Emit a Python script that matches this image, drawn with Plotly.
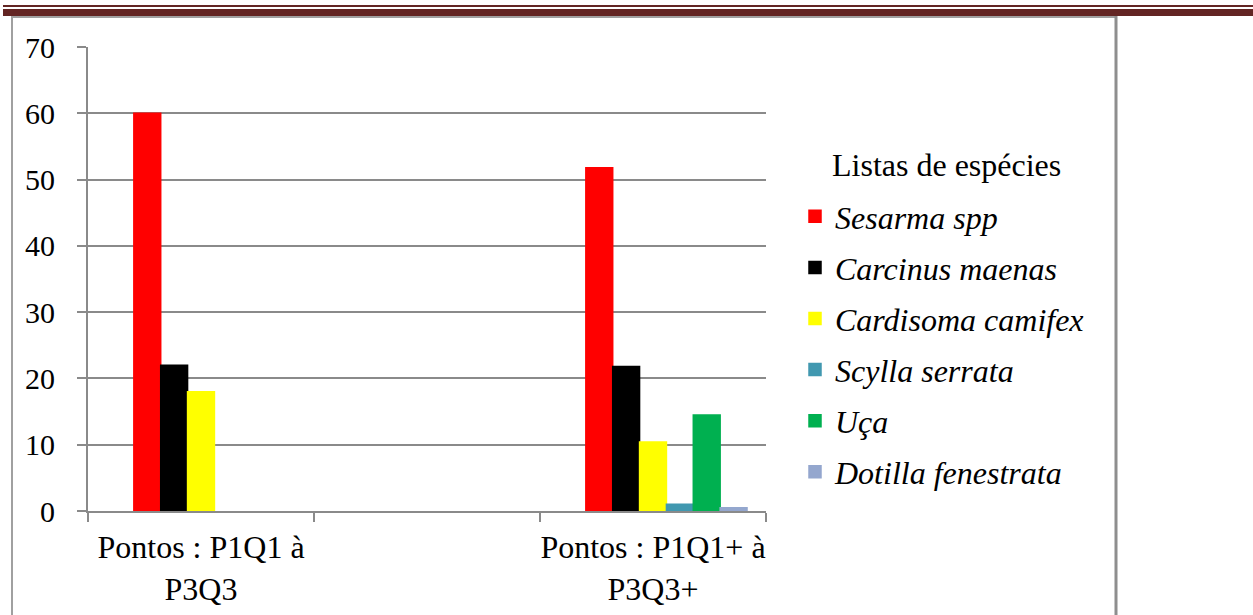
import plotly.graph_objects as go

# Categorias do eixo X (a do meio fica vazia, como na planilha original)
categorias = ["Pontos : P1Q1 à<br>P3Q3", " ", "Pontos : P1Q1+ à<br>P3Q3+"]

# Percentual de indivíduos por espécie em cada conjunto de pontos
especies = ["Sesarma spp", "Carcinus maenas", "Cardisoma camifex",
            "Scylla serrata", "Uça", "Dotilla fenestrata"]
sesarma = [60, None, 51.8]
carcinus = [22, None, 21.8]
cardisoma = [18, None, 10.4]
scylla = [None, None, 1.0]
uca = [None, None, 14.5]
dotilla = [None, None, 0.5]
serie_vazia = [None, None, None]

valores = [sesarma, carcinus, cardisoma, scylla, uca, dotilla]
cores = ["#FF0000", "#000000", "#FFFF00", "#4198B0", "#00B050", "#94A7CE"]

W, H = 1253, 615
ML, MR, MT, MB = 88, 487, 47, 104
PW, PH = W - ML - MR, H - MT - MB


def px_x(px):
    return (px - ML) / PW


def px_y(py):
    return (H - MB - py) / PH


fig = go.Figure()

# série sem dados que ocupa a primeira posição de cada grupo
fig.add_trace(go.Bar(x=categorias, y=serie_vazia, name="—", showlegend=False,
                     marker_color="#FFFFFF", hoverinfo="skip"))

for i, (nome, ys, cor) in enumerate(zip(especies, valores, cores)):
    fig.add_trace(go.Bar(
        x=categorias, y=ys, name=nome, marker_color=cor,
        marker_line=dict(color=cor, width=1.5), legendgroup=f"g{i}",
    ))

serif = "Liberation Serif, Times New Roman, DejaVu Serif, serif"
grid = "#8A8A8A"

fig.update_layout(
    width=W, height=H,
    margin=dict(l=ML, r=MR, t=MT, b=MB, autoexpand=False),
    barmode="group", bargap=0.168, bargroupgap=0,
    paper_bgcolor="white", plot_bgcolor="white",
    font=dict(family=serif, size=30, color="black"),
    showlegend=True,
    legend=dict(
        x=px_x(795), xanchor="left",
        y=px_y(189), yanchor="top",
        traceorder="grouped", tracegroupgap=6.5,
        font=dict(family=serif, size=32, color="black", style="italic"),
        bgcolor="rgba(0,0,0,0)",
    ),
    xaxis=dict(
        type="category", tickson="boundaries", automargin=False,
        showline=True, linecolor=grid, linewidth=2,
        ticks="outside", ticklen=9, tickcolor=grid, tickwidth=2,
        showgrid=False, tickangle=0, ticklabelstandoff=7,
        tickfont=dict(family=serif, size=32, color="black"),
    ),
    yaxis=dict(
        range=[0, 70], dtick=10, automargin=False,
        showline=True, linecolor=grid, linewidth=2,
        ticks="outside", ticklen=9, tickcolor=grid, tickwidth=2,
        showgrid=True, gridcolor=grid, gridwidth=1.5,
        zeroline=False, ticklabelstandoff=16,
        tickfont=dict(family=serif, size=30, color="black"),
    ),
)

# título da legenda
fig.add_annotation(
    text="Listas de espécies", xref="paper", yref="paper",
    x=px_x(946), y=px_y(165), xanchor="center", yanchor="middle",
    showarrow=False, font=dict(family=serif, size=32, color="black"),
)

# moldura da página: faixa vermelha escura no topo e caixa cinza
vinho = "#632523"
shapes = [
    dict(type="rect", xref="paper", yref="paper",
         x0=px_x(3), x1=px_x(W), y0=px_y(7), y1=px_y(5),
         fillcolor=vinho, line_width=0, layer="above"),
    dict(type="rect", xref="paper", yref="paper",
         x0=px_x(3), x1=px_x(W), y0=px_y(16), y1=px_y(9),
         fillcolor=vinho, line_width=0, layer="above"),
    dict(type="line", xref="paper", yref="paper",
         x0=px_x(11), x1=px_x(1116), y0=px_y(17), y1=px_y(17),
         line=dict(color="#A0A0A0", width=2), layer="above"),
    dict(type="line", xref="paper", yref="paper",
         x0=px_x(12), x1=px_x(12), y0=px_y(16), y1=px_y(H + 5),
         line=dict(color="#A0A0A0", width=2), layer="above"),
    dict(type="line", xref="paper", yref="paper",
         x0=px_x(1116), x1=px_x(1116), y0=px_y(16), y1=px_y(H + 5),
         line=dict(color="#8E8E8E", width=3), layer="above"),
]
fig.update_layout(shapes=shapes)

fig.write_html("out.html")
